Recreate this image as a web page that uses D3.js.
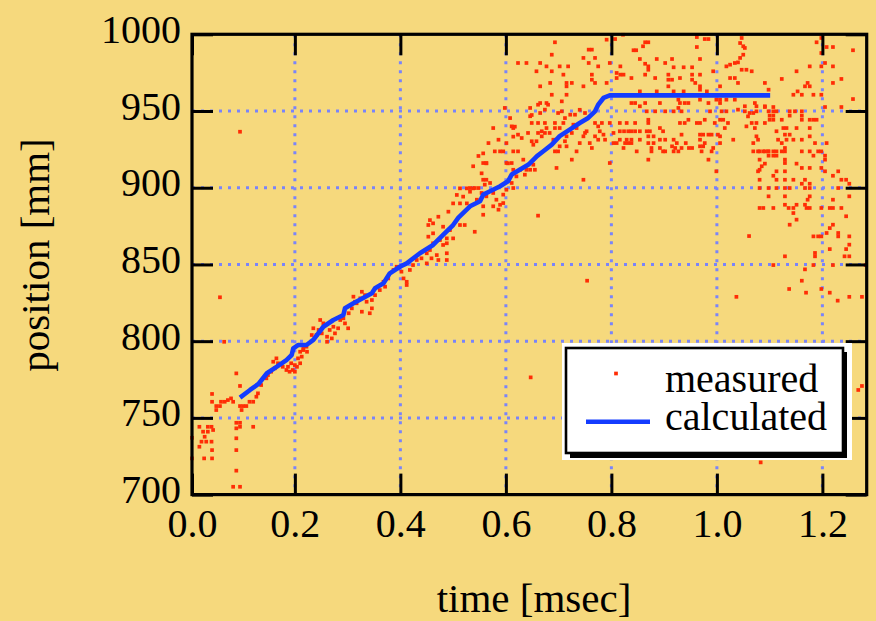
<!DOCTYPE html>
<html>
<head>
<meta charset="utf-8">
<script src="https://cdn.jsdelivr.net/npm/d3@7"></script>
<style>
  html, body { margin: 0; padding: 0; background: #f6d97d; }
  svg { display: block; }
  svg text { font-family: "Liberation Serif", "DejaVu Serif", "Noto Serif", serif; fill: #000; }
</style>
</head>
<body>
<svg id="chart" width="876" height="621"></svg>
<script>
// ---- data ---------------------------------------------------------------
const timeDomain = [0.005, 1.284];          // msec
const posDomain = [700, 1000];              // mm
const timeTicks = [0.005, 0.2, 0.4, 0.6, 0.8, 1.0, 1.2];
const posTicks = [700, 750, 800, 850, 900, 950, 1000];

// calculated trajectory
const calcTime = [0.096,0.115,0.131,0.147,0.166,0.184,0.194,0.197,0.206,0.222,0.235,0.254,0.273,0.292,0.295,0.311,0.346,0.352,0.368,0.380,0.399,0.412,0.437,0.462,0.481,0.500,0.510,0.532,0.551,0.557,0.570,0.589,0.604,0.611,0.627,0.643,0.659,0.671,0.687,0.702,0.721,0.740,0.756,0.769,0.775,0.785,0.797,1.101];
const calcPos = [763.2,768.2,772.1,779.1,783.4,787.7,791.0,795.3,797.5,797.5,800.8,809.4,813.8,817.1,821.4,824.7,831.2,834.5,837.7,844.2,848.5,850.7,857.3,862.7,869.2,875.7,880.5,887.9,891.2,895.5,897.7,901.0,904.2,908.6,911.9,915.1,920.6,923.8,928.1,933.6,937.9,942.2,945.5,949.8,954.1,958.5,960.2,960.2];

// measured samples [time msec, position mm]
const measuredEarly = [
  [0.066,799.6],[0.089,779.0],[0.096,770.8],
  [0.043,765.6],[0.043,760.5],[0.051,757.7],[0.058,757.7],[0.051,755.1],[0.060,760.5],[0.067,760.5],[0.073,761.6],[0.079,762.7],[0.083,760.5],[0.096,757.7],[0.102,757.7],[0.099,755.1],[0.108,757.7],[0.114,760.5],[0.121,760.5],[0.127,763.8],[0.130,766.0],
  [0.136,771.4],[0.146,775.8],[0.155,780.1],[0.162,782.3],[0.168,785.6],[0.177,783.3],[0.184,781.2],[0.190,780.1],[0.196,781.2],[0.200,784.4],[0.165,788.8],[0.159,786.6],[0.149,777.9],[0.187,783.3],[0.193,785.6],[0.206,788.8],[0.216,794.2],[0.222,796.4],
  [0.019,744.2],[0.035,744.2],[0.042,744.2],[0.026,741.0],[0.035,741.0],[0.045,742.1],[0.029,737.7],[0.023,734.5],[0.032,734.5],[0.042,734.5],[0.019,731.2],[0.043,729.0],[0.028,723.6],[0.043,723.6],[0.005,737.0],[0.005,723.6],[0.089,746.8],[0.096,746.8],[0.089,743.2],[0.096,744.2],[0.121,744.2],[0.089,736.7],[0.089,729.0],[0.089,715.6],[0.083,705.1],[0.096,705.1],
  [0.058,828.6],[0.096,936.5]
];
const measuredRise = [
  [0.235,808.4],[0.245,807.3],[0.251,805.1],[0.261,802.9],[0.270,801.8],[0.276,805.1],[0.282,808.4],[0.266,807.3],[0.273,809.4],[0.254,811.6],[0.248,813.8],[0.261,799.6],[0.232,804.0],[0.241,804.0],[0.210,793.1],[0.216,795.3],[0.223,793.1],[0.210,785.6],[0.204,783.3],[0.200,780.1],[0.213,789.9],
  [0.292,814.9],[0.295,811.6],[0.286,813.8],[0.302,818.2],[0.308,821.4],[0.314,825.7],[0.324,827.9],[0.327,832.2],[0.333,830.0],[0.336,825.7],[0.346,821.4],[0.327,819.2],[0.311,829.0],[0.317,824.7],[0.346,826.8],[0.352,830.0],[0.361,833.3],[0.371,835.5],[0.368,838.7],[0.377,840.9],[0.387,846.4],[0.393,848.5],[0.402,845.3],[0.406,840.9],[0.412,838.7],[0.412,836.6],[0.418,846.4],[0.424,849.6],[0.431,852.9],[0.440,854.0],[0.450,857.3],[0.456,859.4],[0.450,850.7],[0.459,854.0],[0.469,856.1],[0.472,852.9],[0.488,857.3],[0.488,852.9],[0.453,868.1],[0.462,870.3],[0.475,865.9],[0.488,867.0],[0.500,867.0],[0.462,863.8],[0.481,862.7],[0.488,863.8],[0.453,875.7],[0.462,876.8],[0.481,874.6],[0.494,872.4],[0.513,875.7],[0.522,875.7],[0.541,871.3],[0.342,818.2],[0.301,808.4],
  [0.513,899.6],[0.526,899.6],[0.538,899.6],[0.507,895.3],[0.519,894.2],[0.532,897.4],[0.500,889.8],[0.513,889.8],[0.526,889.8],[0.491,884.4],[0.472,881.1],[0.456,878.9],[0.548,920.7]
];
const measuredUpper = [
  [0.532,899.8],[0.541,899.8],[0.548,899.8],[0.557,905.2],[0.563,905.2],[0.570,903.1],[0.560,902.0],[0.554,896.6],[0.563,894.4],[0.576,896.6],[0.582,892.2],[0.589,888.9],[0.595,890.0],[0.595,895.5],[0.601,898.7],[0.611,903.1],[0.614,899.8],[0.557,887.9],[0.557,882.4],[0.545,892.2],[0.576,887.9],[0.586,885.7],[0.661,881.8],
  [0.579,923.7],[0.589,923.7],[0.595,923.7],[0.586,931.3],[0.601,929.1],[0.614,923.7],[0.623,923.7],[0.611,916.1],[0.601,916.1],[0.614,911.7],[0.627,911.7],[0.633,918.3],[0.639,911.7],[0.646,911.7],[0.655,911.7],[0.652,915.0],[0.620,907.4],[0.636,908.5],[0.557,916.1],[0.563,916.1],[0.614,938.9],[0.623,934.6],[0.608,945.4],[0.598,952.0],
  [0.649,930.3],[0.652,928.0],[0.658,930.3],[0.661,935.7],[0.668,936.8],[0.668,933.5],[0.646,946.6],[0.649,942.2],[0.661,942.2],[0.665,948.7],[0.661,954.1],[0.674,942.2],[0.677,938.9],[0.674,935.7],[0.683,935.7],[0.690,931.3],[0.693,938.9],[0.693,942.2],[0.702,938.9],[0.709,942.2],[0.712,945.4],[0.699,923.7],[0.693,923.7],[0.702,927.0],[0.712,930.3],[0.715,927.0],[0.715,933.5],[0.725,935.7],[0.725,918.3],[0.734,923.7],[0.740,929.1],[0.747,933.5],[0.750,935.7],[0.753,936.8],[0.759,929.1],[0.763,925.9],[0.769,942.2],[0.775,940.0],[0.778,936.8],[0.785,934.6],[0.788,931.3],[0.775,931.3],[0.769,933.5],[0.782,942.2],[0.804,935.7],[0.804,929.1],[0.810,929.1],[0.797,942.2],[0.797,916.1],[0.747,905.2],[0.696,912.9],[0.722,947.6],[0.731,947.6],[0.740,950.8],[0.750,948.7],[0.646,952.0],
  [0.693,994.8],[0.687,986.7],[0.665,981.3],[0.639,981.3],[0.677,979.1],[0.687,975.9],[0.702,979.1],[0.718,979.1],[0.709,973.7],[0.684,968.3],[0.665,966.1],[0.715,968.3],[0.725,968.3],[0.715,966.1],[0.687,960.6],[0.715,960.6],[0.706,956.3],[0.665,955.2],[0.677,955.2],[0.757,990.0],[0.763,990.0],[0.747,984.6],[0.769,984.6],[0.757,981.3],[0.775,979.1],[0.797,981.3],[0.763,973.7],[0.763,970.4],[0.769,968.3],[0.747,966.1],[0.791,968.3],[0.810,971.5],[0.791,996.5],[0.807,996.9],[0.810,974.8],
  [0.557,922.4],[0.604,915.9],[0.563,915.9],[0.554,909.4],[0.617,939.8],[0.614,933.3],[0.649,947.4],[0.611,940.0],[0.623,981.3],[0.658,975.9],[0.576,938.9],[0.567,929.1],
  [0.674,950.9],[0.680,954.1],[0.699,948.7],[0.706,949.8],[0.728,941.1],[0.734,938.9],[0.630,932.4],[0.642,935.7],[0.538,914.0],[0.754,839.4],[0.647,776.4]
];
const measuredPlateau = [
  [0.822,999.7],[0.864,994.8],[0.870,994.8],[0.860,992.2],[0.842,989.6],[0.847,989.6],[0.854,983.9],[0.864,980.8],[0.870,979.1],[0.864,973.7],[0.870,976.9],[0.886,983.9],[0.902,981.3],[0.915,983.9],[0.918,978.5],[0.937,978.5],[0.953,978.5],[0.962,998.2],[0.977,996.9],[0.984,996.9],[0.962,991.7],[0.968,983.9],[0.953,973.7],[0.953,970.4],[0.959,968.3],[0.968,966.1],[0.968,973.7],[0.908,973.7],[0.908,970.4],[0.908,966.1],[0.915,970.4],[0.930,971.5],[0.883,971.5],[0.838,971.5],[0.817,979.1],[0.817,973.7],[0.823,973.7],[0.993,975.9],[1.006,966.1],
  [0.854,962.8],[0.886,962.8],[0.918,962.8],[0.937,962.8],[0.968,963.9],[0.981,962.8],
  [0.838,955.2],[0.845,955.2],[0.854,953.1],[0.864,955.2],[0.892,955.2],[0.927,957.4],[0.930,955.2],[0.939,955.2],[0.946,955.2],[0.927,952.0],[0.968,957.4],[0.984,955.2],[0.999,957.4],[1.006,955.2],
  [0.867,949.8],[0.883,949.8],[0.902,949.8],[0.918,949.8],[0.933,949.8],[0.987,949.8],
  [0.816,942.2],[0.829,942.2],[0.845,942.2],
  [0.816,936.8],[0.824,936.8],[0.832,936.8],[0.838,936.8],[0.845,936.8],[0.854,936.8],
  [0.816,931.3],[0.829,931.3],[0.838,931.3],[0.826,929.1],[0.832,929.1],[0.838,929.1],[0.854,931.3],
  [0.823,925.9],[0.848,923.7],[0.870,944.3],[0.870,942.2],[0.867,936.8],[0.873,936.8],[0.880,933.5],[0.870,933.5],[0.870,929.1],[0.880,929.1],[0.876,925.9],[0.876,923.7],
  [0.892,938.9],[0.898,936.8],[0.892,931.3],[0.902,931.3],[0.892,925.9],[0.898,923.7],[0.902,923.7],
  [0.918,931.3],[0.924,929.1],[0.915,927.0],[0.921,925.9],[0.918,923.7],[0.927,923.7],[0.933,925.9],
  [0.930,942.2],[0.939,942.2],[0.946,944.3],[0.933,934.6],[0.941,929.1],[0.947,925.9],[0.953,925.9],
  [0.962,942.2],[0.968,942.2],[0.977,944.3],[0.968,934.6],[0.974,934.6],[0.984,934.6],[0.990,934.6],[0.968,931.3],[0.977,929.1],[0.968,927.0],[0.974,927.0],[0.971,923.7],[0.993,925.9],[0.990,923.7],[0.984,918.3],[0.870,918.3],[0.996,942.2],[1.002,934.6]
];
const measuredLate = [
  [1.018,979.1],[1.025,980.2],[1.034,981.3],[1.040,981.7],[1.044,984.6],[1.050,986.7],[1.053,991.1],[1.047,997.6],[1.044,994.3],[1.050,992.2],[1.025,971.5],[1.034,971.5],[1.040,968.3],[1.047,976.9],[1.056,976.9],[1.066,975.9],[1.091,968.3],[1.098,963.9],
  [1.006,957.4],[1.018,957.4],[1.034,957.4],[1.053,953.1],[1.072,955.2],[1.075,953.1],[1.091,953.1],
  [1.009,949.8],[1.018,949.8],[1.040,950.9],[1.053,949.8],[1.062,948.7],[1.069,948.7],[1.075,949.8],
  [1.006,944.3],[1.012,944.3],[1.021,942.2],[1.015,938.9],[1.006,933.5],[1.031,931.3],[1.006,929.1],[1.059,946.5],[1.066,942.2],[1.075,942.2],[1.072,938.9],[1.056,940.0],[1.075,933.5],[1.069,929.1],[1.078,931.3],[1.091,942.2],
  [1.069,923.7],[1.078,923.7],[1.088,923.7],[1.097,923.7],[1.081,918.3],[1.085,914.0],[1.078,910.7],[1.081,905.2],[1.088,886.8],[0.999,910.7],
  [1.198,997.6],[1.198,987.8],[1.189,994.8],[1.208,991.7],[1.220,991.7],[1.258,989.6],
  [1.205,981.3],[1.220,979.1],[1.176,979.1],[1.198,979.1],[1.151,975.9],[1.123,970.9],[1.172,968.3],[1.176,966.1],[1.167,966.1],[1.236,970.9],[1.220,968.3],[1.153,962.8],[1.145,960.6],[1.161,960.6],[1.183,960.6],[1.198,960.6],[1.258,957.8],
  [1.091,952.6],[1.107,952.6],[1.098,949.8],[1.107,949.8],[1.113,949.8],[1.138,949.8],[1.148,949.8],[1.161,949.8],[1.205,952.6],[1.236,952.6],[1.100,947.0],[1.107,947.0],[1.100,944.3],[1.107,944.3],[1.123,944.3],[1.138,947.0],[1.161,947.0],[1.161,944.3],[1.176,944.3],[1.183,944.3],[1.189,944.3],
  [1.126,938.9],[1.132,938.9],[1.151,938.9],[1.176,938.9],[1.113,936.8],[1.129,934.6],[1.138,934.6],[1.132,931.3],[1.145,931.3],[1.161,931.3],[1.176,933.5],[1.116,931.3],[1.123,929.1],[1.129,925.9],[1.186,929.1],[1.208,929.1],
  [1.081,923.7],[1.091,923.7],[1.098,923.7],[1.107,923.7],[1.113,923.7],[1.123,923.7],[1.129,923.7],[1.161,923.7],[1.176,923.7],[1.192,923.7],[1.198,923.7],
  [1.098,920.9],[1.107,920.9],[1.113,920.9],[1.183,920.9],[1.205,920.9],
  [1.129,918.3],[1.129,916.1],[1.205,918.3],[1.091,915.7],[1.081,911.7],[1.151,915.7],[1.161,912.9],[1.176,912.9],[1.198,912.9],[1.205,910.7],[1.220,907.8],[1.230,910.7],[1.129,910.7],[1.113,910.7],
  [1.107,907.8],[1.113,905.2],[1.129,905.2],[1.145,905.2],[1.161,902.6],[1.167,905.2],[1.176,902.6],[1.236,905.2],[1.245,905.2],[1.251,902.6],
  [1.081,899.8],[1.098,899.8],[1.113,899.8],[1.129,899.8],[1.138,899.8],[1.167,899.8],[1.176,899.8],[1.230,899.8],
  [1.098,894.4],[1.129,894.4],[1.176,894.4],[1.172,892.2],[1.220,892.2],[1.251,894.4],[1.129,888.9],[1.136,886.8],[1.145,886.8],[1.151,888.9],[1.167,888.9],[1.170,886.8],[1.176,886.8],[1.081,886.8],[1.107,886.8],[1.198,886.8],[1.214,886.8],[1.220,886.8],[1.236,886.8],[1.245,881.4],[1.145,883.5],[1.138,875.9],[1.151,879.2],[1.220,875.9],[1.214,873.7],[1.208,870.5],[1.230,870.5],[1.183,868.3],[1.192,868.3],[1.198,868.3],[1.251,868.3],[1.230,868.3],[1.214,860.0],[1.251,862.9],[1.245,860.0],[1.242,855.3],[1.251,855.3],[1.129,855.3],[1.186,857.5],[1.186,855.3],
  [1.107,849.6],[1.183,849.6],[1.220,849.6],[1.282,849.6],[1.167,846.8],[1.161,839.4],[1.137,834.0],[1.169,831.6],[1.198,834.0],[1.214,831.6],[1.229,826.4],[1.251,828.9],[1.275,828.9],[1.268,768.2],[1.275,770.8],[1.083,721.0],[1.061,868.5],[1.037,828.9]
];
const measured = [].concat(measuredEarly, measuredRise, measuredUpper, measuredPlateau, measuredLate);

// ---- layout --------------------------------------------------------------
const plot = { left: 192, right: 866.7, top: 34.3, bottom: 494.6 };
const tickLen = 21;
const colors = {
  frame: "#000000",
  grid: "#7a84fa",
  measured: "#ff2d05",
  calculated: "#143cff"
};

const svg = d3.select("#chart");
svg.append("rect").attr("width", 876).attr("height", 621).attr("fill", "#f6d97d");

const x = d3.scaleLinear().domain(timeDomain).range([plot.left, plot.right]);
const y = d3.scaleLinear().domain(posDomain).range([plot.bottom, plot.top]);

// dotted grid
const grid = svg.append("g")
  .attr("stroke", colors.grid)
  .attr("stroke-width", 3)
  .attr("stroke-dasharray", "3,6");
grid.selectAll("line.gv").data(timeTicks.slice(1)).join("line")
  .attr("class", "gv")
  .attr("x1", d => x(d)).attr("x2", d => x(d))
  .attr("y1", plot.top).attr("y2", plot.bottom);
grid.selectAll("line.gh").data(posTicks.slice(1, -1)).join("line")
  .attr("class", "gh")
  .attr("x1", plot.left).attr("x2", plot.right)
  .attr("y1", d => y(d)).attr("y2", d => y(d));

// measured points
const dot = 3.7;
svg.append("g").attr("fill", colors.measured)
  .selectAll("rect").data(measured).join("rect")
  .attr("x", d => x(d[0]) - dot / 2)
  .attr("y", d => y(d[1]) - dot / 2)
  .attr("width", dot).attr("height", dot);

// calculated line
const calc = calcTime.map((t, i) => [t, calcPos[i]]);
svg.append("path").datum(calc)
  .attr("fill", "none")
  .attr("stroke", colors.calculated)
  .attr("stroke-width", 4.6)
  .attr("stroke-linejoin", "round")
  .attr("d", d3.line().x(d => x(d[0])).y(d => y(d[1])));

// axes with inward ticks on all four sides
function styleAxis(g) {
  g.attr("font-family", null).attr("font-size", null);
  g.select(".domain").remove();
  g.selectAll(".tick line").attr("stroke", colors.frame).attr("stroke-width", 3);
}
const fmtT = d3.format(".1f");

const xb = svg.append("g").attr("transform", `translate(0,${plot.bottom})`)
  .call(d3.axisBottom(x).tickValues(timeTicks).tickFormat(fmtT).tickSizeInner(-tickLen).tickSizeOuter(0));
styleAxis(xb);
xb.selectAll(".tick text")
  .attr("y", 42.5).attr("dy", null)
  .attr("fill", null).style("font-size", "40px");

const xt = svg.append("g").attr("transform", `translate(0,${plot.top})`)
  .call(d3.axisTop(x).tickValues(timeTicks).tickFormat("").tickSizeInner(-tickLen).tickSizeOuter(0));
styleAxis(xt);

const yl = svg.append("g").attr("transform", `translate(${plot.left},0)`)
  .call(d3.axisLeft(y).tickValues(posTicks).tickFormat(d3.format("d")).tickSizeInner(-tickLen).tickSizeOuter(0));
styleAxis(yl);
yl.selectAll(".tick text")
  .attr("x", -11).attr("y", 8).attr("dy", null)
  .attr("fill", null).style("font-size", "40px");

const yr = svg.append("g").attr("transform", `translate(${plot.right},0)`)
  .call(d3.axisRight(y).tickValues(posTicks).tickFormat("").tickSizeInner(-tickLen).tickSizeOuter(0));
styleAxis(yr);

// frame
svg.append("rect")
  .attr("x", plot.left).attr("y", plot.top)
  .attr("width", plot.right - plot.left).attr("height", plot.bottom - plot.top)
  .attr("fill", "none").attr("stroke", colors.frame).attr("stroke-width", 3.2);

// axis titles
svg.append("text")
  .attr("x", 534).attr("y", 612)
  .attr("text-anchor", "middle")
  .style("font-size", "41px")
  .text("time [msec]");
svg.append("text")
  .attr("transform", "translate(49,255) rotate(-90)")
  .attr("text-anchor", "middle")
  .style("font-size", "41px")
  .text("position [mm]");

// legend
const lg = svg.append("g");
lg.append("rect").attr("x", 562).attr("y", 343).attr("width", 290).attr("height", 117).attr("fill", "#ffffff");
lg.append("rect").attr("x", 570).attr("y", 352).attr("width", 277).attr("height", 106).attr("fill", "#000000");
lg.append("rect").attr("x", 566).attr("y", 348).attr("width", 277).attr("height", 105)
  .attr("fill", "#ffffff").attr("stroke", "#000000").attr("stroke-width", 2.6);
lg.append("rect").attr("x", 616 - dot / 2).attr("y", 373.5 - dot / 2).attr("width", dot).attr("height", dot)
  .attr("fill", colors.measured);
lg.append("line").attr("x1", 586).attr("x2", 650).attr("y1", 421.7).attr("y2", 421.7)
  .attr("stroke", colors.calculated).attr("stroke-width", 4.6);
lg.append("text").attr("x", 665).attr("y", 391.5)
  .style("font-size", "40px").text("measured");
lg.append("text").attr("x", 665).attr("y", 430)
  .style("font-size", "40px").text("calculated");
</script>
</body>
</html>
